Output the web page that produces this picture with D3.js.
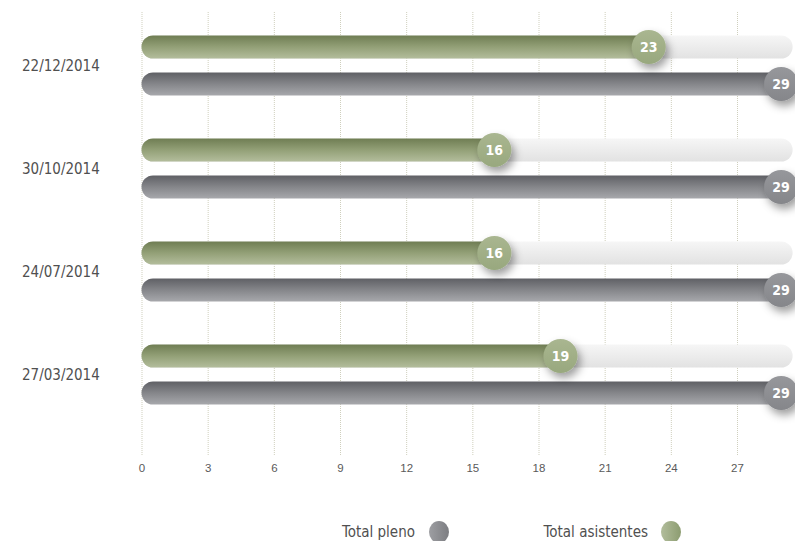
<!DOCTYPE html>
<html>
<head>
<meta charset="utf-8">
<script src="https://cdn.jsdelivr.net/npm/d3@7"></script>
<style>
  body { margin: 0; background: #fff; }
  svg { display: block; font-family: "DejaVu Sans Condensed", "DejaVu Sans", sans-serif; }
  .grid line { stroke: #cfcfbd; stroke-dasharray: 1,1; }
  .grid text { fill: #5a5a5a; font-size: 11.5px; }
</style>
</head>
<body>
<div id="plot"></div>
<script>
const dates = ['22/12/2014', '30/10/2014', '24/07/2014', '27/03/2014'];
const asistentes = [23, 16, 16, 19];
const pleno = [29, 29, 29, 29];
const xTicks = [0, 3, 6, 9, 12, 15, 18, 21, 24, 27];
const legendItems = ['Total pleno', 'Total asistentes'];

function plotChart() {
  const width = 795, height = 541;
  const svg = d3.select('#plot')
        .append('svg')
        .attr('width', width)
        .attr('height', height);
  const defs = svg.append('defs');
  // gradients for bars, dots and legend swatches
  const grad = (id, stops, horiz) => {
    const g = defs.append('linearGradient').attr('id', id)
          .attr('x1', 0).attr('y1', 0)
          .attr('x2', horiz ? 1 : 0).attr('y2', horiz ? 0 : 1);
    stops.forEach((c, i) => g.append('stop')
                  .attr('offset', i / (stops.length - 1)).attr('stop-color', c));
  };
  grad('gGreen', ['#6f7d53', '#93a077', '#b3bd9c']);
  grad('gGrey', ['#5f6065', '#85868a', '#a7a8ac']);
  grad('gTrack', ['#f6f6f6', '#ececec', '#e2e2e2']);
  grad('gDotGreen', ['#a9b690', '#98a87e']);
  grad('gDotGrey', ['#96979b', '#85868a']);
  grad('gLegGrey', ['#9d9ea2', '#7c7d81'], true);
  grad('gLegGreen', ['#b2bd9c', '#8c9c70'], true);
  defs.append('filter').attr('id', 'shadow')
    .attr('x', '-60%').attr('y', '-60%').attr('width', '220%').attr('height', '220%')
    .append('feDropShadow')
    .attr('dx', 3).attr('dy', 5).attr('stdDeviation', 4)
    .attr('flood-color', '#000').attr('flood-opacity', 0.38);

  const x = d3.scaleLinear().domain([0, 27]).range([141.5, 737]);
  const y = d3.scaleBand().domain(dates).range([14, 426]);
  const barH = 23, off = 18.5, r = 17;

  // Grid + ticks
  const gridTop = 12, gridBottom = 455;
  svg.append('g')
    .attr('class', 'grid')
    .attr('transform', `translate(0,${gridBottom})`)
    .call(d3.axisBottom(x).tickValues(xTicks)
          .tickSize(-(gridBottom - gridTop)).tickPadding(9))
    .call(g => g.select('.domain').remove())
    .call(g => g.selectAll('text').attr('font-family', null).attr('font-size', null));

  const rows = dates.map((d, i) => ({date: d, a: asistentes[i], p: pleno[i]}));
  const row = svg.selectAll('.row').data(rows).enter().append('g')
        .attr('class', 'row')
        .attr('transform', d => `translate(0,${y(d.date) + y.bandwidth() / 2})`);

  row.append('text')
    .attr('x', 22).attr('dy', '0.35em')
    .style('font-size', '15px').style('fill', '#505050')
    .text(d => d.date);

  const trackEnd = x(pleno[0]) + barH / 2;
  // light track behind the green bar
  row.append('rect')
    .attr('x', x(0)).attr('y', -off - barH / 2)
    .attr('width', trackEnd - x(0)).attr('height', barH)
    .attr('rx', barH / 2).attr('fill', 'url(#gTrack)');
  row.append('rect')
    .attr('x', x(0)).attr('y', -off - barH / 2)
    .attr('width', d => x(d.a) - x(0) + barH / 2).attr('height', barH)
    .attr('rx', barH / 2).attr('fill', 'url(#gGreen)');
  row.append('rect')
    .attr('x', x(0)).attr('y', off - barH / 2)
    .attr('width', d => x(d.p) - x(0) + barH / 2).attr('height', barH)
    .attr('rx', barH / 2).attr('fill', 'url(#gGrey)');

  const dots = [
    {key: 'a', dy: -off, fill: 'url(#gDotGreen)'},
    {key: 'p', dy: off, fill: 'url(#gDotGrey)'}
  ];
  dots.forEach(s => {
    row.append('circle')
      .attr('cx', d => x(d[s.key])).attr('cy', s.dy).attr('r', r)
      .attr('fill', s.fill).attr('filter', 'url(#shadow)');
    row.append('text')
      .attr('x', d => x(d[s.key])).attr('y', s.dy).attr('dy', '0.36em')
      .attr('text-anchor', 'middle')
      .style('font-size', '14px').style('font-weight', 'bold').style('fill', '#fff')
      .text(d => d[s.key]);
  });

  // Legend
  const legend = svg.append('g').selectAll('g')
        .data(legendItems).enter().append('g')
        .attr('transform', (_, i) => `translate(${i ? 648 : 415},532)`);
  legend.append('text')
    .attr('text-anchor', 'end').attr('dy', '0.35em')
    .style('font-size', '15px').style('fill', '#505050')
    .text(d => d);
  legend.append('ellipse')
    .attr('cx', (_, i) => i ? 23 : 24).attr('rx', 10).attr('ry', 11)
    .attr('fill', (_, i) => i ? 'url(#gLegGreen)' : 'url(#gLegGrey)');
}

plotChart();
</script>
</body>
</html>
